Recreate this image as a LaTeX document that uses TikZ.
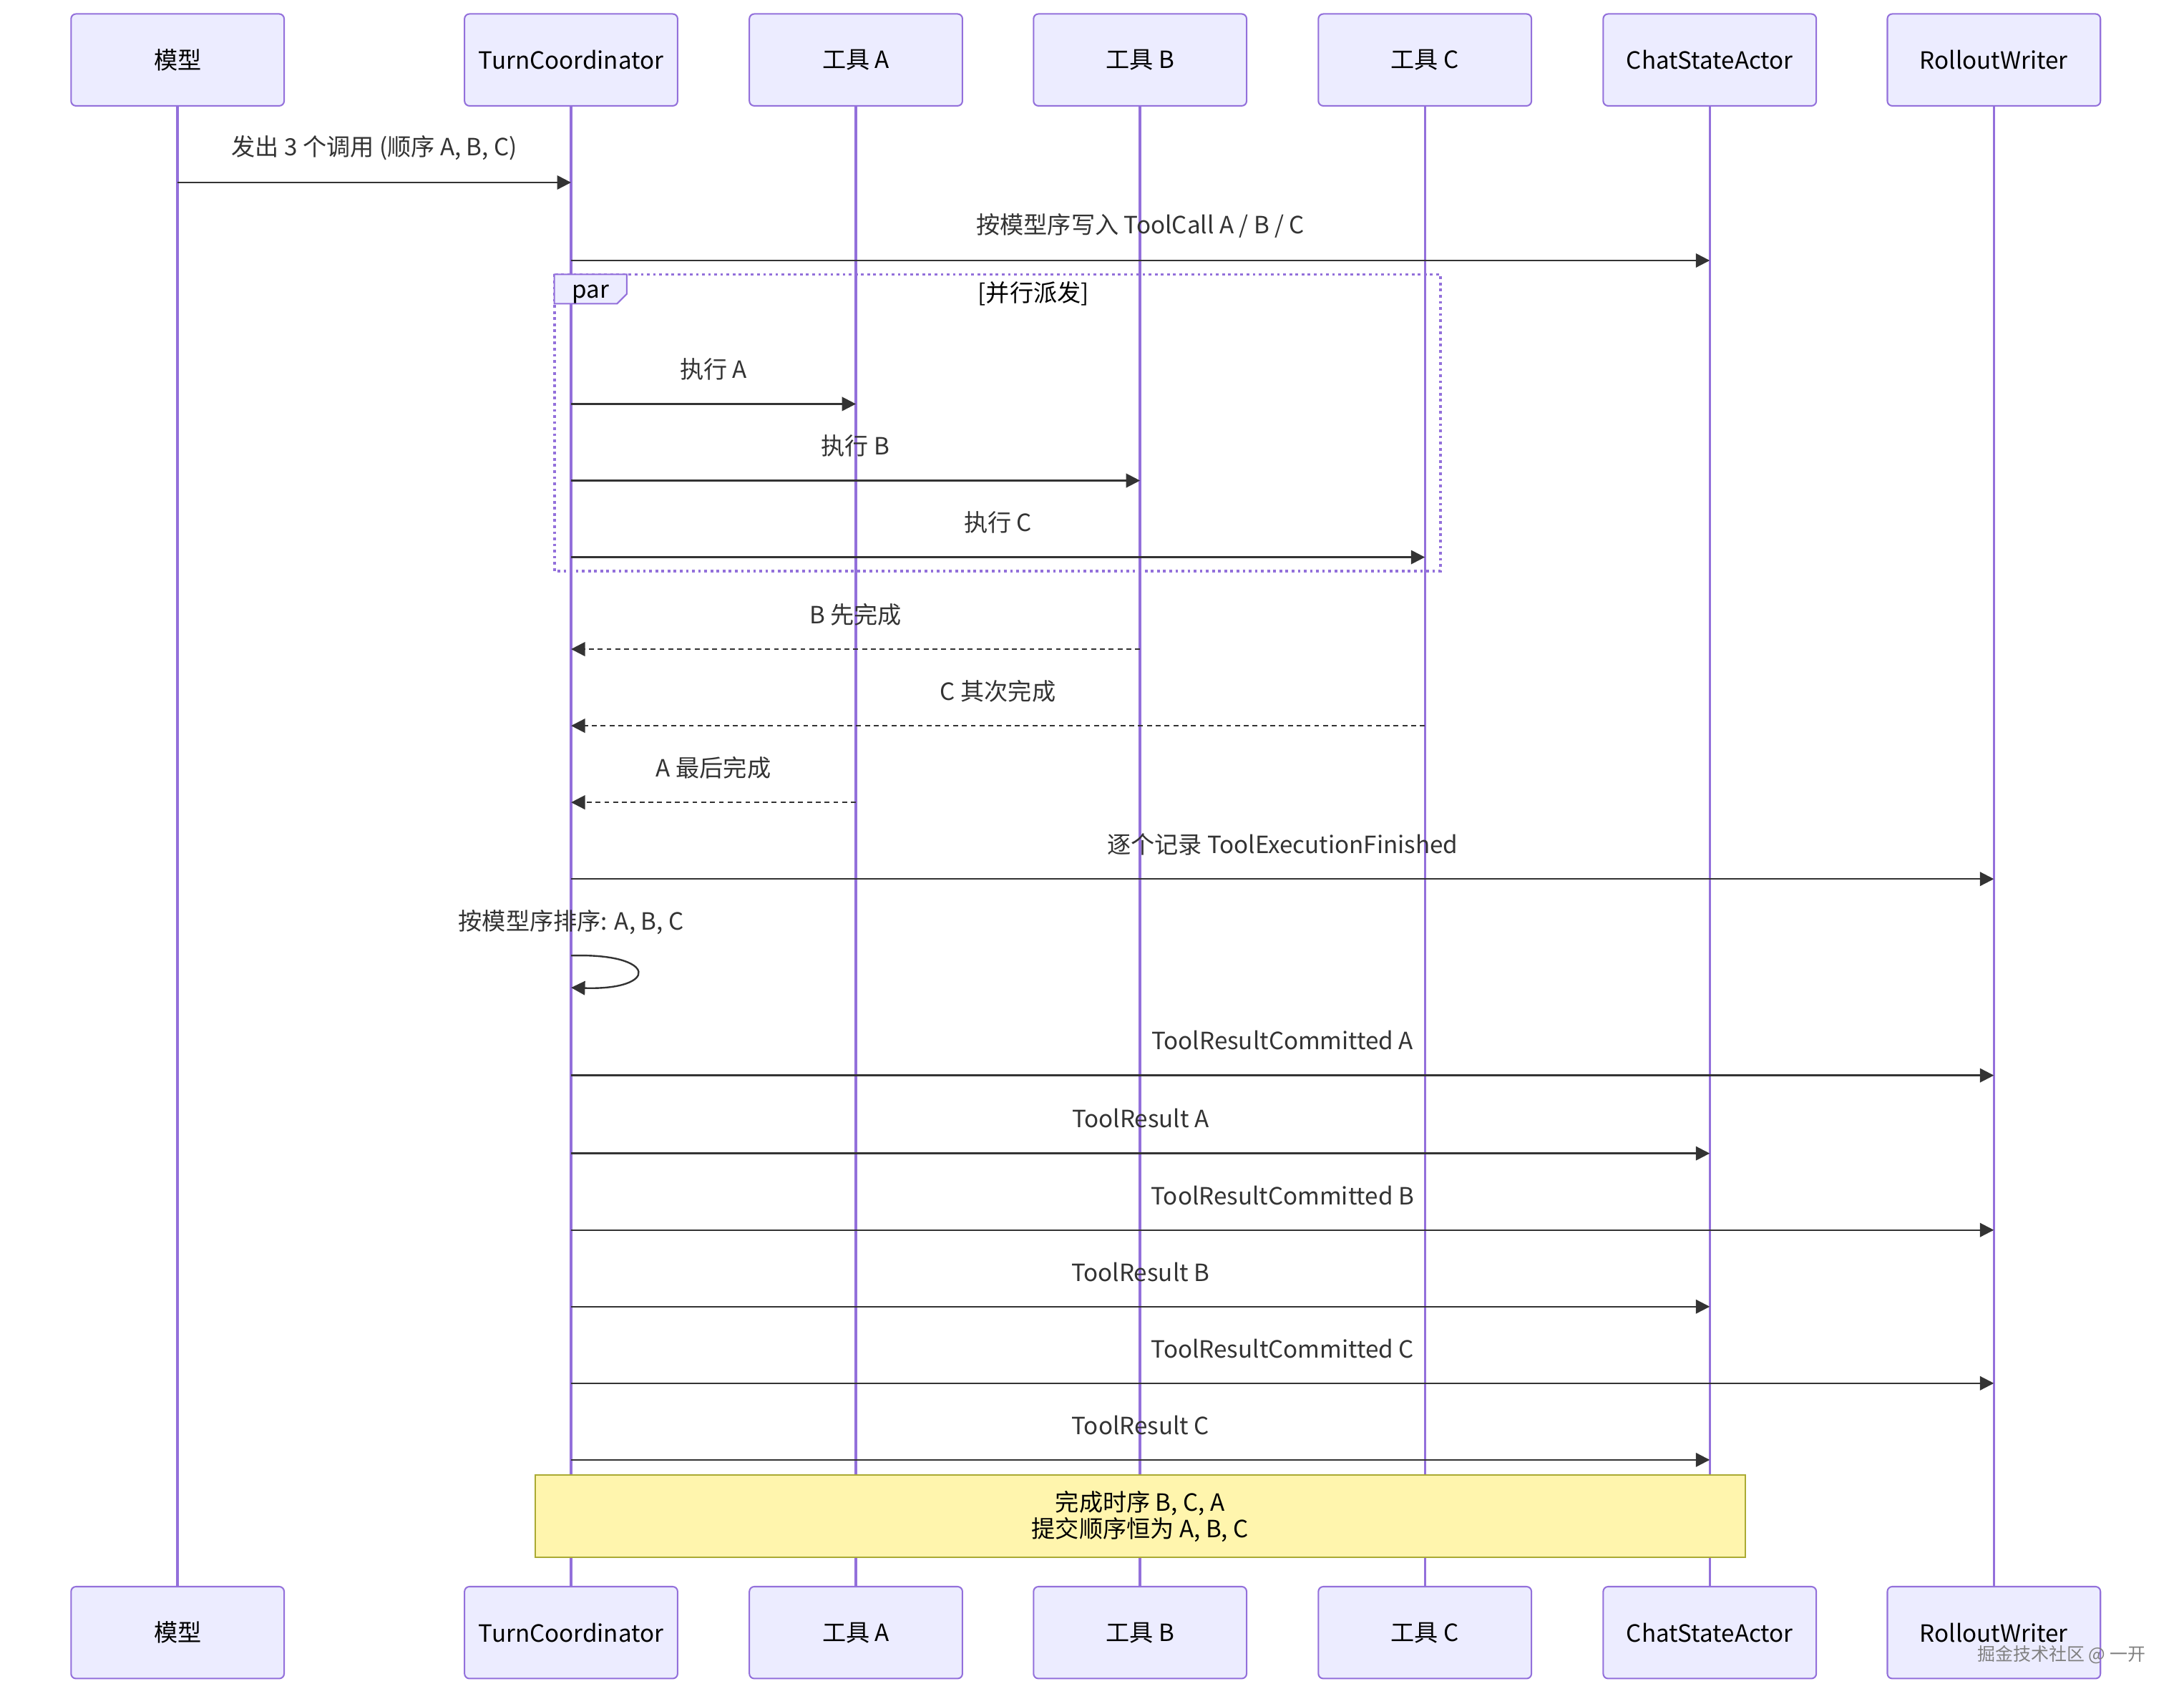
\documentclass[tikz,border=0pt]{standalone}
\usepackage{fontspec}
\setmainfont{Noto Sans CJK SC}
\usetikzlibrary{arrows.meta}

\definecolor{actfill}{HTML}{ECECFF}
\definecolor{actline}{HTML}{9370DB}
\definecolor{msgline}{HTML}{333333}
\definecolor{notefill}{HTML}{FFF5AD}
\definecolor{noteline}{HTML}{AAAA33}

\begin{document}
\begin{tikzpicture}[x=0.02cm, y=-0.02cm]
\tikzset{ >={Triangle[length=2mm,width=2mm]}, font=\fontsize{9.7}{10.8}\selectfont,
  actor/.style={draw=actline, fill=actfill, rounded corners=2pt, line width=0.6pt,
                minimum width=3.06cm, minimum height=1.32cm},
  life/.style={actline, line width=1pt},
  msg/.style={->, msgline, line width=0.7pt},
  reply/.style={msg, dash pattern=on 2pt off 1.6pt},
  lbl/.style={text=msgline, yshift=0.5cm},
}

\useasboundingbox (0,0) rectangle (1568,1223);

% actors, top and bottom
\node [actor] (mT)  at (127.5,43) {模型};
\node [actor] (tcT) at (410,43)   {TurnCoordinator};
\node [actor] (aT)  at (614.5,43) {工具 A};
\node [actor] (bT)  at (818.5,43) {工具 B};
\node [actor] (cT)  at (1023,43)  {工具 C};
\node [actor] (csT) at (1227.5,43) {ChatStateActor};
\node [actor] (rwT) at (1431.5,43) {RolloutWriter};

\node [actor] (mB)  at (127.5,1172) {模型};
\node [actor] (tcB) at (410,1172)   {TurnCoordinator};
\node [actor] (aB)  at (614.5,1172) {工具 A};
\node [actor] (bB)  at (818.5,1172) {工具 B};
\node [actor] (cB)  at (1023,1172)  {工具 C};
\node [actor] (csB) at (1227.5,1172) {ChatStateActor};
\node [actor] (rwB) at (1431.5,1172) {RolloutWriter};

\draw [life] (mT)  -- (mB);
\draw [life] (tcT) -- (tcB);
\draw [life] (aT)  -- (aB);
\draw [life] (bT)  -- (bB);
\draw [life] (cT)  -- (cB);
\draw [life] (csT) -- (csB);
\draw [life] (rwT) -- (rwB);

\draw [msg] (mT |- 0,131)  -- node[lbl] (l1) {发出 3 个调用 (顺序 A, B, C)} (tcT |- 0,131);
\draw [msg] (tcT |- 0,187) -- node[lbl] (l2) {按模型序写入 ToolCall A / B / C} (csT |- 0,187);

% par block
\draw [actline, line width=1.1pt, dash pattern=on 1.1pt off 1.4pt] (398,197) rectangle (1034,410);
\draw [actline, fill=actfill, line width=0.6pt] (398,197) -- (450,197) -- (450,211) -- (443,218) -- (398,218) -- cycle;
\node (par)  at (424,211) {par};
\node (cond) at (742,211) {[并行派发]};

\draw [msg] (tcT |- 0,290) -- node[lbl] (l3) {执行 A} (aT |- 0,290);
\draw [msg] (tcT |- 0,345) -- node[lbl] (l4) {执行 B} (bT |- 0,345);
\draw [msg] (tcT |- 0,400) -- node[lbl] (l5) {执行 C} (cT |- 0,400);

\draw [reply] (bT |- 0,466) -- node[lbl] (l6) {B 先完成} (tcT |- 0,466);
\draw [reply] (cT |- 0,521) -- node[lbl] (l7) {C 其次完成} (tcT |- 0,521);
\draw [reply] (aT |- 0,576) -- node[lbl] (l8) {A 最后完成} (tcT |- 0,576);

\draw [msg] (tcT |- 0,631) -- node[lbl] (l9) {逐个记录 ToolExecutionFinished} (rwT |- 0,631);

\node [text=msgline] (l10) at (tcT |- 0,662) {按模型序排序: A, B, C};
\draw [msg] (tcT |- 0,686) .. controls +(63,-2) and +(63,2) .. (tcT |- 0,709);

\draw [msg] (tcT |- 0,772)  -- node[lbl] (l11) {ToolResultCommitted A} (rwT |- 0,772);
\draw [msg] (tcT |- 0,828)  -- node[lbl] (l12) {ToolResult A} (csT |- 0,828);
\draw [msg] (tcT |- 0,883)  -- node[lbl] (l13) {ToolResultCommitted B} (rwT |- 0,883);
\draw [msg] (tcT |- 0,938)  -- node[lbl] (l14) {ToolResult B} (csT |- 0,938);
\draw [msg] (tcT |- 0,993)  -- node[lbl] (l15) {ToolResultCommitted C} (rwT |- 0,993);
\draw [msg] (tcT |- 0,1048) -- node[lbl] (l16) {ToolResult C} (csT |- 0,1048);

% note over TurnCoordinator .. ChatStateActor
\node [draw=noteline, fill=notefill, line width=0.6pt, align=center,
       minimum width=17.38cm, minimum height=1.18cm] (note) at (818.5,1088.5)
      {完成时序 B, C, A\\提交顺序恒为 A, B, C};

\node [text=gray, font=\fontsize{7.3}{9}\selectfont] (wm) at (1480,1188) {掘金技术社区 @ 一开};

\end{tikzpicture}
\end{document}
